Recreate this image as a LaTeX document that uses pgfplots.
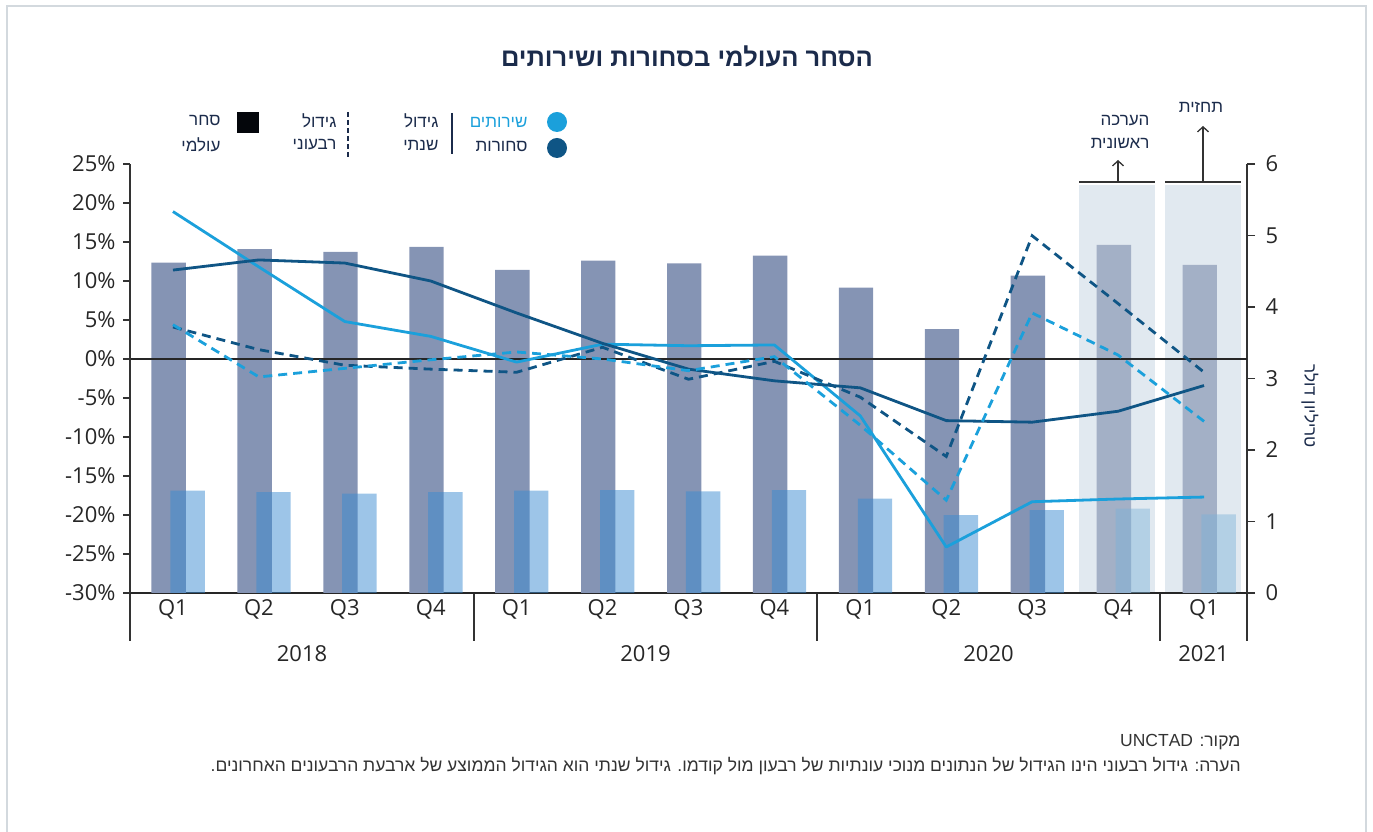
\documentclass[border=0pt]{standalone}
\usepackage{fontspec}
\usepackage{pgfplots}
\usetikzlibrary{arrows.meta}
\pgfplotsset{compat=1.18}
\setmainfont{Open Sans}
\newfontfamily\heb[Script=Hebrew]{Liberation Sans}
\TeXXeTstate=1
\newcommand{\R}[1]{{\heb\beginR #1\endR}}
\definecolor{navy}{HTML}{1B2B4B}
\definecolor{svc}{HTML}{1BA0DB}
\definecolor{gds}{HTML}{0F5585}
\definecolor{wbar}{HTML}{8594B4}
\definecolor{wbarF}{HTML}{A3B0C6}
\definecolor{lbar}{RGB}{59,139,209}
\definecolor{lbarF}{RGB}{123,178,216}
\definecolor{fcshade}{HTML}{E1E9F0}
\definecolor{framec}{HTML}{D3D9DE}
\definecolor{axc}{HTML}{333333}
\begin{document}
\begin{tikzpicture}
\path[use as bounding box] (0,0) rectangle (1373pt,832pt);
\begin{scope}[x=1pt, y=-1pt, yshift=832pt]
\draw[framec, line width=2pt] (7,840) -- (7,6) -- (1366,6) -- (1366,840);
% forecast shading
\fill[fcshade] (1079,185) rectangle (1155,593);
\fill[fcshade] (1165,185) rectangle (1241,593);
\draw[axc, line width=1.5pt] (1079,182) -- (1155,182);
\draw[axc, line width=1.5pt] (1165,182) -- (1241,182);
\draw[axc, line width=1.3pt, -{Straight Barb[length=5pt,width=11pt]}] (1118,182) -- (1118,160);
\draw[axc, line width=1.3pt, -{Straight Barb[length=5pt,width=11pt]}] (1203,182) -- (1203,126);
\node[anchor=east, navy, font=\fontsize{17}{20}\selectfont] at (1153,121) {\R{הערכה}};
\node[anchor=east, navy, font=\fontsize{17}{20}\selectfont] at (1153,143) {\R{ראשונית}};
\node[navy, font=\fontsize{17}{20}\selectfont] at (1201,107) {\R{תחזית}};
\end{scope}
% bars axis (right)
\begin{axis}[at={(130pt,239pt)}, anchor=south west, scale only axis,
  width=1117pt, height=429pt,
  xmin=-0.5, xmax=12.5, ymin=0, ymax=6,
  axis x line*=bottom, axis y line*=right,
  xtick={0,...,12}, xticklabels={Q1,Q2,Q3,Q4,Q1,Q2,Q3,Q4,Q1,Q2,Q3,Q4,Q1},
  xtick style={draw=none},
  ytick={0,...,6}, ytick align=outside, major tick length=8pt,
  ytick style={axc, line width=1.2pt},
  x axis line style={black!85, line width=2.5pt},
  y axis line style={axc, line width=1.3pt},
  tick label style={font=\fontsize{22}{26}\selectfont, text=black!85},
  /pgf/number format/assume math mode=true,
  yticklabel style={xshift=7pt},
  xticklabel style={yshift=-3pt},
  clip=false]
\addplot[ybar, bar width=0.4, bar shift=-0.05, fill=wbar, draw=none] coordinates {(0,4.62)(1,4.81)(2,4.77)(3,4.84)(4,4.52)(5,4.65)(6,4.61)(7,4.72)(8,4.27)(9,3.69)(10,4.44)};
\addplot[ybar, bar width=0.4, bar shift=-0.05, fill=wbarF, draw=none] coordinates {(11,4.87)(12,4.59)};
\addplot[ybar, bar width=0.4, bar shift=0.17, fill=lbar, fill opacity=0.5, draw=none] coordinates {(0,1.43)(1,1.41)(2,1.39)(3,1.41)(4,1.43)(5,1.44)(6,1.42)(7,1.44)(8,1.32)(9,1.09)(10,1.16)};
\addplot[ybar, bar width=0.4, bar shift=0.17, fill=lbarF, fill opacity=0.45, draw=none] coordinates {(11,1.18)(12,1.10)};
\draw[black!85, line width=2pt] (axis cs:-0.5,3.2727) -- (axis cs:12.5,3.2727);
\end{axis}
% lines axis (left)
\begin{axis}[at={(130pt,239pt)}, anchor=south west, scale only axis,
  width=1117pt, height=429pt,
  xmin=-0.5, xmax=12.5, ymin=-30, ymax=25,
  hide x axis, axis y line*=left,
  ytick={-30,-25,...,25},
  yticklabels={-30\%,-25\%,-20\%,-15\%,-10\%,-5\%,0\%,5\%,10\%,15\%,20\%,25\%},
  ytick align=outside, major tick length=7pt,
  ytick style={axc, line width=1.2pt},
  y axis line style={axc, line width=1.3pt},
  tick label style={font=\fontsize{22}{26}\selectfont, text=black!85},
  yticklabel style={xshift=-4pt},
  clip=false]
\addplot[svc, line width=2.8pt, line join=round] coordinates {(0,18.9)(1,11.8)(2,4.8)(3,2.9)(4,-0.4)(5,1.9)(6,1.7)(7,1.8)(8,-7.3)(9,-24.1)(10,-18.3)(11,-17.95)(12,-17.7)};
\addplot[gds, line width=2.8pt, line join=round] coordinates {(0,11.4)(1,12.7)(2,12.3)(3,10.0)(4,5.9)(5,2.0)(6,-1.3)(7,-2.8)(8,-3.7)(9,-7.9)(10,-8.1)(11,-6.7)(12,-3.4)};
\addplot[gds, line width=2.8pt, dash pattern=on 9pt off 6pt] coordinates {(0,4.1)(1,1.2)(2,-0.8)(3,-1.3)(4,-1.7)(5,1.5)(6,-2.6)(7,-0.3)(8,-4.9)(9,-12.5)(10,15.8)(11,7.1)(12,-1.7)};
\addplot[svc, line width=2.8pt, dash pattern=on 9pt off 6pt] coordinates {(0,4.4)(1,-2.3)(2,-1.2)(3,-0.1)(4,0.9)(5,0.0)(6,-1.5)(7,0.3)(8,-8.5)(9,-18.1)(10,5.9)(11,0.5)(12,-8.0)};
\end{axis}
\begin{scope}[x=1pt, y=-1pt, yshift=832pt]
% separators below x axis
\foreach \xx in {130,474,817,1160,1247} {\draw[axc, line width=1.2pt] (\xx,594) -- (\xx,641);}
\foreach \xx/\yy in {302/2018,645.5/2019,988.5/2020,1203.5/2021} {\node[font=\fontsize{22}{26}\selectfont, text=black!85] at (\xx,654) {\yy};}
% right axis label
\node[rotate=-90, navy, font=\fontsize{17}{20}\selectfont] at (1310,406) {\R{טריליון דולר}};
% title
\node[navy, font=\fontsize{25.5}{30}\selectfont] at (687,57) {{\heb\bfseries\beginR הסחר העולמי בסחורות ושירותים\endR}};
% legend
\fill[svc] (557,122) circle (10);
\fill[gds] (557,148) circle (10);
\node[anchor=east, svc, font=\fontsize{17}{20}\selectfont] at (531,122) {\R{שירותים}};
\node[anchor=east, navy, font=\fontsize{17}{20}\selectfont] at (531,147) {\R{סחורות}};
\draw[navy, line width=2pt] (452,113) -- (452,154);
\node[anchor=east, navy, font=\fontsize{17}{20}\selectfont] at (442,121) {\R{גידול}};
\node[anchor=east, navy, font=\fontsize{17}{20}\selectfont] at (442,145) {\R{שנתי}};
\draw[navy, line width=2pt, dash pattern=on 5pt off 3pt] (348,112) -- (348,157);
\node[anchor=east, navy, font=\fontsize{17}{20}\selectfont] at (340,121) {\R{גידול}};
\node[anchor=east, navy, font=\fontsize{17}{20}\selectfont] at (340,145) {\R{רבעוני}};
\fill[black!85!navy] (237,112) rectangle (259,133);
\node[anchor=east, navy, font=\fontsize{17}{20}\selectfont] at (224,121) {\R{סחר}};
\node[anchor=east, navy, font=\fontsize{17}{20}\selectfont] at (224,145) {\R{עולמי}};
% notes
\node[anchor=east, text=black!80, font=\fontsize{17.5}{20}\selectfont] at (1244,742) {\R{מקור: UNCTAD}};
\node[anchor=east, text=black!80, font=\fontsize{17.5}{20}\selectfont] at (1244,766) {\R{הערה: גידול רבעוני הינו הגידול של הנתונים מנוכי עונתיות של רבעון מול קודמו. גידול שנתי הוא הגידול הממוצע של ארבעת הרבעונים האחרונים.}};
\end{scope}
\end{tikzpicture}
\end{document}
